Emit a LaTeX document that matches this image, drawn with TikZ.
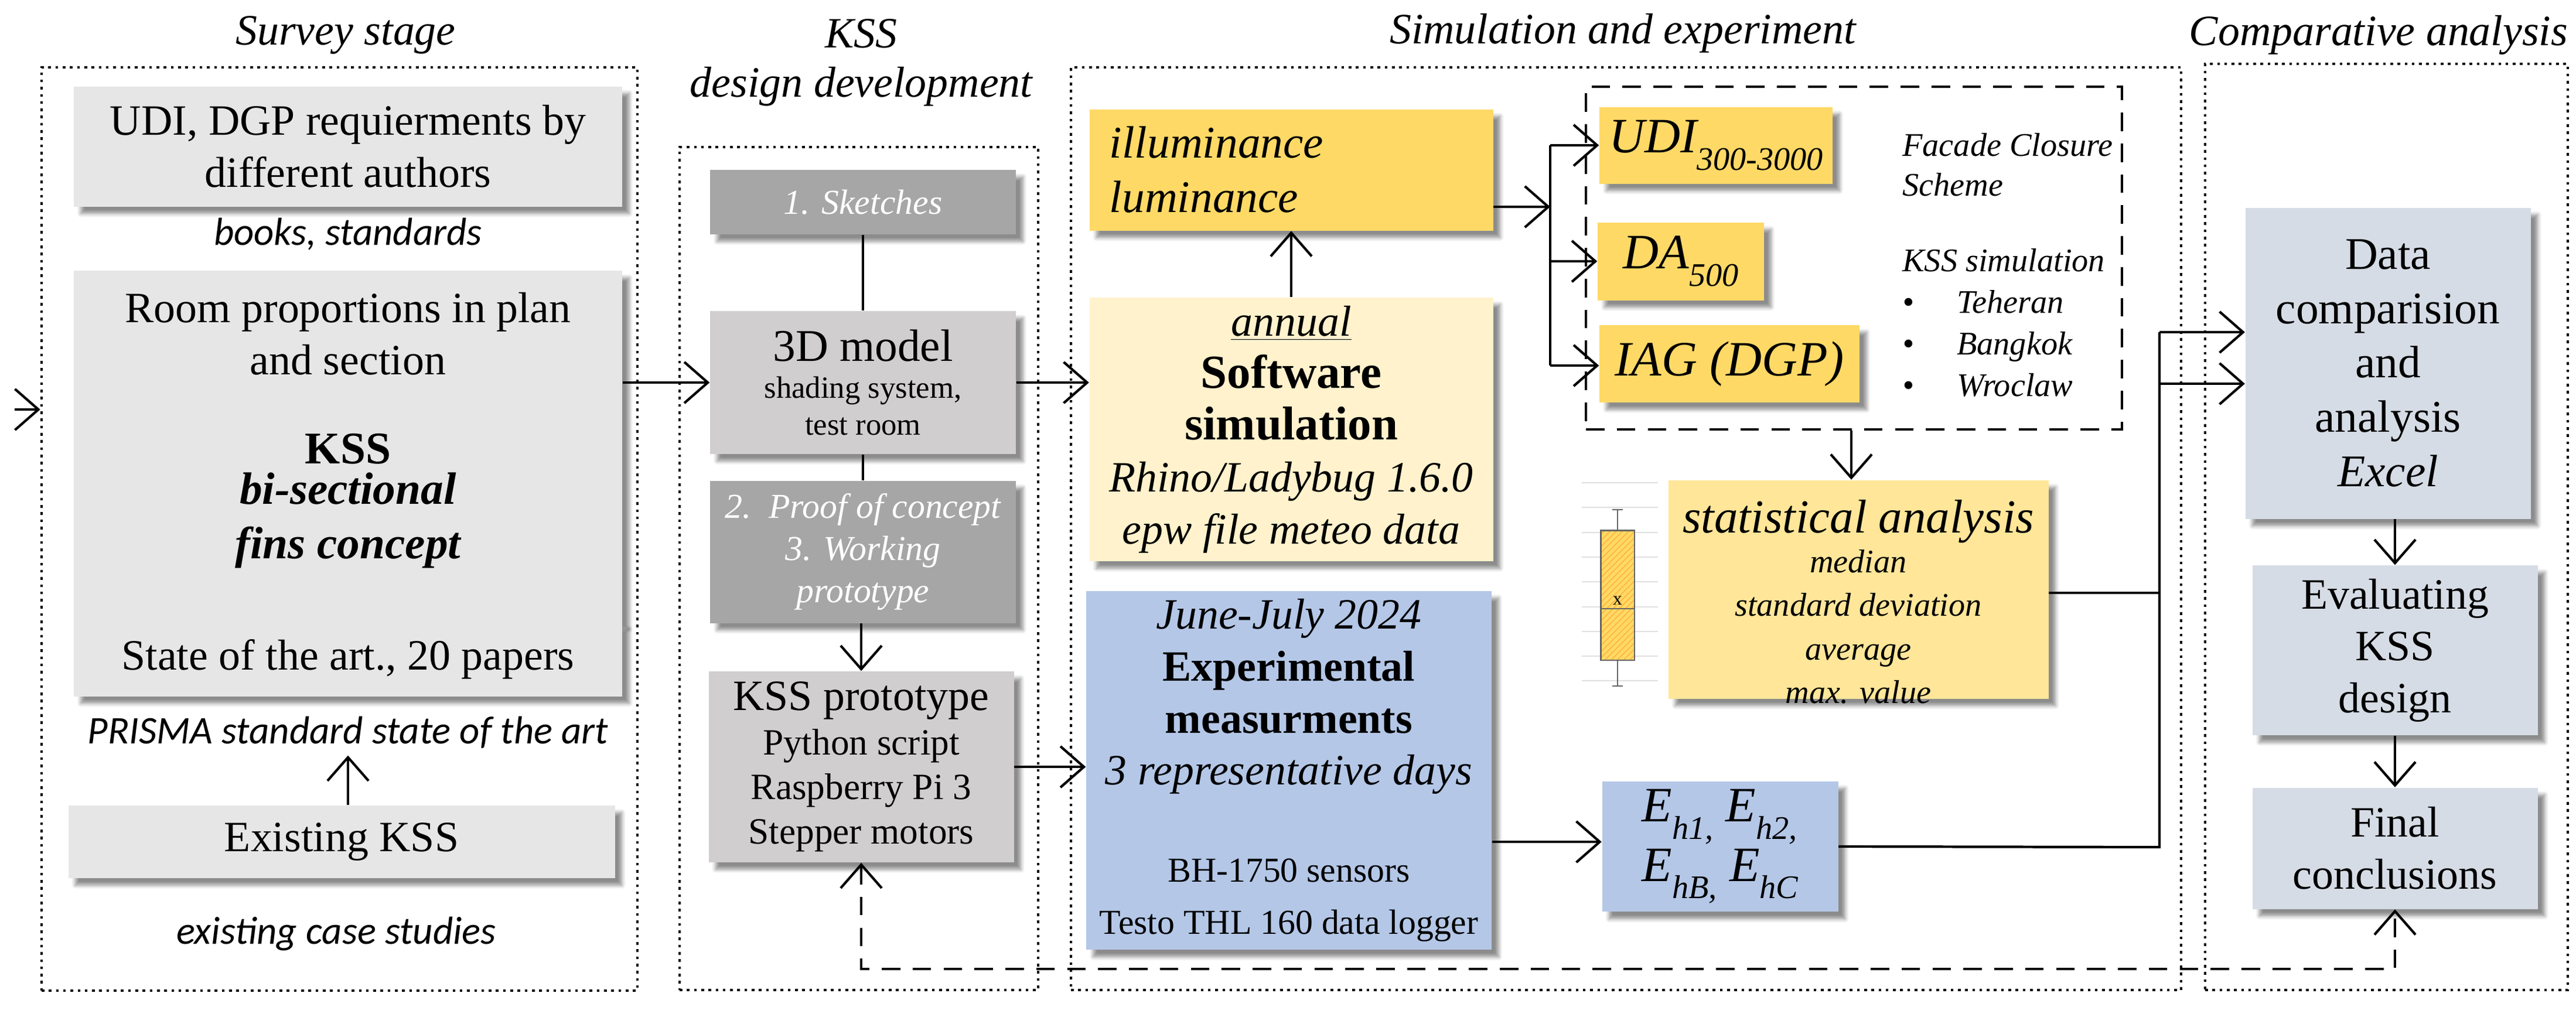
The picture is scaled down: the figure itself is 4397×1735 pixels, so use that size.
\documentclass[tikz,border=0pt]{standalone}
\usepackage{fontspec}
\setmainfont{Liberation Serif}
\newfontfamily\sansf{Carlito}
\usetikzlibrary{arrows.meta,shadows.blur,patterns}
\definecolor{sgray}{HTML}{E7E6E6}
\definecolor{dgray}{HTML}{A6A6A6}
\definecolor{mgray}{HTML}{D0CECE}
\definecolor{yel}{HTML}{FFD966}
\definecolor{lyel}{HTML}{FFF2CC}
\definecolor{myel}{HTML}{FFE699}
\definecolor{blu}{HTML}{B4C7E7}
\definecolor{cgray}{HTML}{D6DCE5}
\newcommand\fsz[1]{\fontsize{#1}{\dimexpr #1pt*6/5\relax}\selectfont}
\newcommand\lowsub[1]{\raisebox{-0.35em}{\fontsize{16}{16}\selectfont #1}}
\begin{document}
\begin{tikzpicture}[x=0.01cm,y=-0.01cm,
  sz/.style 2 args={minimum width=#1*0.01cm, minimum height=#2*0.01cm},
  box/.style={draw=none, inner sep=4pt, align=center,
    blur shadow={shadow blur steps=6, shadow xshift=1.2mm, shadow yshift=-1.2mm, shadow opacity=45}},
  frame/.style={draw, line width=1.3pt, dash pattern=on 1.3pt off 2.2pt, inner sep=0pt},
  arr/.style={line width=1.2pt, -{Straight Barb[length=4mm,width=7mm,line width=1.2pt]}},
  ln/.style={line width=1.2pt},
  title/.style={font=\fsz{21}\itshape, align=center},
  note/.style={font=\sansf\itshape\fsz{19}, align=center}]
\useasboundingbox (0,0) rectangle (4397,1735);
% frames
\node[frame, sz={1017}{1576}] (fsurvey) at (579.5,903) {};
\node[frame, sz={612}{1439}] (fkss) at (1466,970.5) {};
\node[frame, sz={1895}{1575}] (fsim) at (2775.5,902.5) {};
\node[frame, sz={619}{1581}] (fcomp) at (4073.5,899.5) {};
% titles
\node[title] (t1) at (590,60) {Survey stage};
\node[title] (t2a) at (1470,57) {KSS};
\node[title] (t2b) at (1470,148) {design development};
\node[title] (t3) at (2770,57) {Simulation and experiment};
\node[title] (t4) at (4060,60) {Comparative analysis};
% survey
\node[box, fill=sgray, sz={936}{205}, font=\fsz{21}] (udi) at (594,250) {UDI, DGP requierments by\\different authors};
\node[note] (books) at (594,400) {books, standards};
\node[box, fill=sgray, sz={936}{600}] (room) at (594,762) {};
\node[font=\fsz{21}, align=center] (roomt) at (594,570) {Room proportions in plan\\and section};
\node[font=\fsz{22}\bfseries, align=center] (kss) at (594,766) {KSS};
\node[font=\fsz{22}\bfseries\itshape, align=center] (bis) at (594,888) {bi-sectional\\fins concept};
\node[box, fill=sgray, sz={936}{127}, font=\fsz{21}] (state) at (594,1125) {State of the art., 20 papers};
\node[note] (prisma) at (594,1250) {PRISMA standard state of the art};
\node[box, fill=sgray, sz={933}{124}, font=\fsz{21}] (exist) at (583,1437) {Existing KSS};
\node[note] (cases) at (574,1594) {existing case studies};
\draw[arr] (exist.north -| prisma) -- (prisma.south);
\coordinate (inl) at (25,699);
\draw[arr] (inl) -- (inl -| fsurvey.west);
% KSS column
\node[box, fill=dgray, sz={522}{110}, text=white, font=\fsz{17}\itshape] (sk) at (1473,345) {1. Sketches};
\node[box, fill=mgray, sz={522}{244}, font=\fsz{15}] (m3d) at (1473,653) {{\fsz{22}3D model}\\shading system,\\test room};
\node[box, fill=dgray, sz={522}{243}, text=white, font=\fsz{17}\itshape] (proof) at (1473,942) {2.\ \ Proof of concept\\3. Working\\prototype};
\node[box, fill=mgray, sz={521}{326}, font=\fsz{18}] (proto) at (1470,1309) {{\fsz{21}KSS prototype}\\Python script\\Raspberry Pi 3\\Stepper motors};
\draw[ln] (sk) -- (m3d);
\draw[ln] (m3d) -- (proof);
\draw[arr] (proof.south -| proto) -- (proto.north);
\draw[arr] (room.east |- m3d) -- (m3d.west);
% simulation
\node[box, fill=yel, sz={689}{207}, font=\fsz{22}\itshape, align=left, text width=6.2cm] (ill) at (2204,290) {illuminance\\luminance};
\node[box, fill=lyel, sz={689}{450}, font=\fsz{21}] (soft) at (2204,733) {\textit{\underline{annual}}\\{\bfseries\fsz{23}Software}\\{\bfseries\fsz{23}simulation}\\\textit{Rhino/Ladybug 1.6.0}\\\textit{epw file meteo data}};
\node[box, fill=blu, sz={692}{567}, font=\fsz{21}] (exp) at (2200,1315) {\textit{June-July 2024}\\{\bfseries Experimental}\\{\bfseries measurments}\\\textit{3 representative days}\\[22pt]{\fsz{17}BH-1750 sensors}\\{\fsz{17}Testo THL 160 data logger}};
\draw[arr] (soft.north) -- (ill.south);
\draw[arr] (m3d.east) -- (m3d.east -| soft.west);
\draw[arr] (proto.east) -- (proto.east -| exp.west);
\node[draw, line width=1.3pt, dash pattern=on 9pt off 6pt, sz={915}{585}, inner sep=0pt] (dfr) at (3164.5,440.5) {};
\node[box, fill=yel, sz={398}{131}, font=\fsz{24}\itshape] (udim) at (2929,248) {UDI\lowsub{300-3000}};
\node[box, fill=yel, sz={284}{133}, font=\fsz{24}\itshape] (da) at (2869,446) {DA\lowsub{500}};
\node[box, fill=yel, sz={444}{132}, font=\fsz{24}\itshape] (iag) at (2952,621) {IAG (DGP)};
\node[font=\fsz{16}\itshape, align=left, anchor=north west] (fcs) at (3235,215) {Facade Closure\\Scheme};
\node[font=\fsz{16}\itshape, align=left, anchor=north west] (kssim) at (3235,412) {KSS simulation\\[1pt]\textbullet\hspace{1.3em}Teheran\\[1pt]\textbullet\hspace{1.3em}Bangkok\\[1pt]\textbullet\hspace{1.3em}Wroclaw};
\coordinate (br1) at (2646,248);
\coordinate (br2) at (2646,624);
\draw[arr] (ill.east |- 0,353) -- (2646,353);
\draw[ln] (br1) -- (br2);
\draw[arr] (br1) -- (udim.west);
\draw[arr] (2646,446) -- (da.west);
\draw[arr] (br2) -- (br2 -| iag.west);
% statistics
\node[box, fill=myel, sz={649}{373}] (stat) at (3172,1006) {};
\node[font=\fsz{23}\itshape] (statt) at (3172,890) {statistical analysis};
\node[font=\fsz{16}\itshape, align=center] (statl) at (3172,1070) {median\\[2pt]standard deviation\\[2pt]average\\[2pt]max. value};
\draw[arr] (dfr.south -| 3160,0) -- (stat.north -| 3160,0);
\foreach \gy in {824,866,909,951,993,1036,1078,1120,1162}
  \draw[black!12, line width=0.6pt] (2700,\gy) -- (2830,\gy);
\draw[black!60, line width=0.7pt] (2761,870) -- (2761,906) (2752,870) -- (2770,870)
  (2761,1126) -- (2761,1171) (2752,1171) -- (2770,1171);
\node[fill=yel, sz={56}{220}, inner sep=0pt] (bp) at (2761,1016) {};
\fill[pattern=north east lines, pattern color=yel!55!orange] (bp.south west) rectangle (bp.north east);
\draw[black!60, line width=0.7pt] (bp.south west) rectangle (bp.north east);
\draw[black!60, line width=0.7pt] (2733,1039) -- (2789,1039);
\node[font=\fsz{9}] (bpx) at (2761,1025) {x};
\node[box, fill=blu, sz={403}{208}, font=\fsz{24}\itshape, align=left] (eh) at (2936,1445) {E\lowsub{h1,} E\lowsub{h2,}\\E\lowsub{hB,} E\lowsub{hC}};
\draw[arr] (exp.east |- 0,1437) -- (eh.west |- 0,1437);
% comparative
\node[box, fill=cgray, sz={487}{531}, font=\fsz{22}] (data) at (4076,620) {Data\\comparision\\and\\analysis\\\textit{Excel}};
\node[box, fill=cgray, sz={487}{290}, font=\fsz{21}] (eval) at (4088,1110) {Evaluating\\KSS\\design};
\node[box, fill=cgray, sz={487}{207}, font=\fsz{21}] (final) at (4088,1448) {Final\\conclusions};
\draw[arr] (data.south -| eval) -- (eval.north);
\draw[arr] (eval) -- (final);
\coordinate (j1) at (3686,567);
\coordinate (j2) at (3686,655);
\coordinate (j3) at (3686,1446);
\draw[ln] (stat.east |- 0,1012) -- (3686,1012);
\draw[ln] (eh.east) -- (j3) -- (j1);
\draw[arr] (j1) -- (j1 -| data.west);
\draw[arr] (j2) -- (j2 -| data.west);
% feedback
\coordinate (fb) at (2700,1654);
\draw[line width=1.3pt, dash pattern=on 9pt off 6pt, {Straight Barb[length=4mm,width=7mm,line width=1.2pt]}-{Straight Barb[length=4mm,width=7mm,line width=1.2pt]}] (proto.south) |- (fb) -| (final.south);
\end{tikzpicture}
\end{document}
